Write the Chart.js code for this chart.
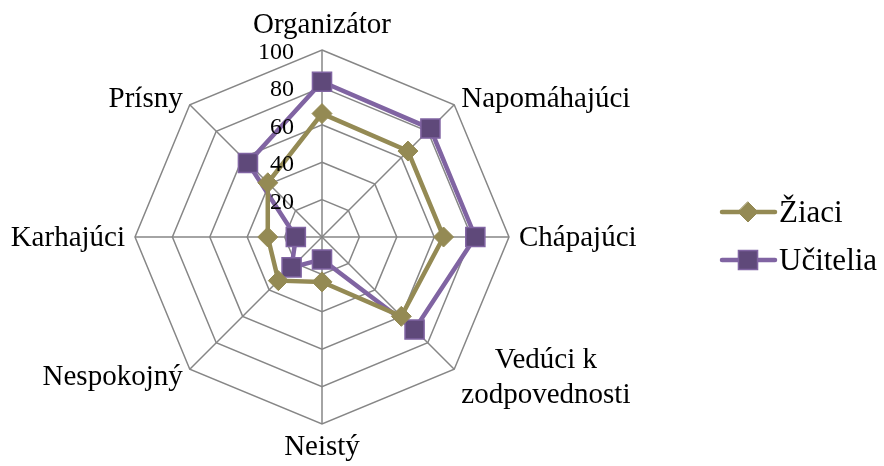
<!DOCTYPE html>
<html>
<head>
<meta charset="utf-8">
<script src="https://cdn.jsdelivr.net/npm/chart.js@4/dist/chart.umd.min.js"></script>
<style>
  html, body { margin: 0; padding: 0; background: #fff; }
  #wrap { width: 884px; height: 466px; }
</style>
</head>
<body>
<div id="wrap"><canvas id="radar" width="884" height="466"></canvas></div>
<script>
const categories = [
  "Organizátor",
  "Napomáhajúci",
  "Chápajúci",
  ["Vedúci k", "zodpovednosti"],
  "Neistý",
  "Nespokojný",
  "Karhajúci",
  "Prísny",
];
const ziaci = [66, 65, 65, 60, 24, 33, 29, 41];
const ucitelia = [83, 82, 82, 70, 12, 23, 14, 56];
const tickValues = [20, 40, 60, 80, 100];

const seriesNames = ["Žiaci", "Učitelia"];
const serif = "'Times New Roman', 'Liberation Serif', serif";

// point labels, tick labels and legend drawn by hand so they sit like the original
const labelsPlugin = {
  id: "labels",
  afterDraw(chart) {
    const ctx = chart.ctx;
    const scale = chart.scales.r;
    const cx = scale.xCenter;
    const cy = scale.yCenter;
    const R = scale.drawingArea;

    ctx.save();
    ctx.fillStyle = "#000";

    // category labels
    ctx.font = "29px " + serif;
    categories.forEach((label, i) => {
      const lines = Array.isArray(label) ? label : [label];
      const pos = scale.getPointPosition(i, R + 10);
      const widths = lines.map((l) => ctx.measureText(l).width);
      const maxW = Math.max(...widths);
      const lineH = 35;
      const blockH = lineH * lines.length;
      let left;
      if (pos.x > cx + 1) left = pos.x;
      else if (pos.x < cx - 1) left = pos.x - maxW;
      else left = pos.x - maxW / 2;
      let firstBase;
      if (Math.abs(pos.x - cx) < 1 && pos.y < cy) firstBase = pos.y - 7 - lineH * (lines.length - 1);
      else if (Math.abs(pos.x - cx) < 1) firstBase = pos.y + 21;
      else firstBase = pos.y - blockH / 2 + lineH / 2 + 9;
      ctx.textAlign = "center";
      ctx.textBaseline = "alphabetic";
      lines.forEach((l, k) => {
        ctx.fillText(l, left + maxW / 2, firstBase + k * lineH);
      });
    });

    // tick labels
    ctx.font = "24px " + serif;
    ctx.textAlign = "right";
    scale.ticks.forEach((t) => {
      if (!tickValues.includes(t.value)) return;
      const d = scale.getDistanceFromCenterForValue(t.value);
      ctx.fillText(String(t.value), cx - 28, cy - d + 9);
    });

    // legend
    const ds = chart.data.datasets;
    ctx.font = "31px " + serif;
    ctx.textAlign = "left";
    ds.forEach((d, k) => {
      const y = 212 + k * 48;
      ctx.strokeStyle = d.borderColor;
      ctx.lineWidth = 4.5;
      ctx.lineCap = "round";
      ctx.beginPath();
      ctx.moveTo(722, y);
      ctx.lineTo(775, y);
      ctx.stroke();
      ctx.fillStyle = d.pointBackgroundColor;
      ctx.strokeStyle = d.pointBorderColor;
      ctx.lineWidth = d.pointBorderWidth;
      ctx.beginPath();
      if (d.pointStyle === "rect") {
        const s = Math.SQRT1_2 * d.pointRadius;
        ctx.rect(748 - s, y - s, 2 * s, 2 * s);
      } else {
        const r = d.pointRadius;
        ctx.moveTo(748, y - r);
        ctx.lineTo(748 + r, y);
        ctx.lineTo(748, y + r);
        ctx.lineTo(748 - r, y);
        ctx.closePath();
      }
      ctx.fill();
      ctx.stroke();
      ctx.fillStyle = "#000";
      ctx.fillText(d.label, 779, y + 10);
    });
    ctx.restore();
  },
};

const ctx = document.getElementById("radar").getContext("2d");
new Chart(ctx, {
  type: "radar",
  data: {
    labels: categories,
    datasets: [
      {
        label: seriesNames[0],
        data: ziaci,
        borderColor: "#948A54",
        borderWidth: 4.5,
        backgroundColor: "rgba(0,0,0,0)",
        fill: false,
        pointStyle: "rectRot",
        pointRadius: 10,
        pointBackgroundColor: "#948A54",
        pointBorderColor: "#948A54",
        pointBorderWidth: 1,
        pointHoverRadius: 10,
      },
      {
        label: seriesNames[1],
        data: ucitelia,
        borderColor: "#8064A2",
        borderWidth: 4.5,
        backgroundColor: "rgba(0,0,0,0)",
        fill: false,
        pointStyle: "rect",
        pointRadius: 13.5,
        pointBackgroundColor: "#5F497A",
        pointBorderColor: "#8064A2",
        pointBorderWidth: 1.5,
        pointHoverRadius: 13.5,
      },
    ],
  },
  options: {
    responsive: false,
    animation: false,
    devicePixelRatio: 1,
    layout: {
      padding: { left: 135, right: 375, top: 50, bottom: 42 },
    },
    plugins: {
      legend: { display: false },
      tooltip: { enabled: false },
    },
    elements: {
      line: { tension: 0 },
    },
    scales: {
      r: {
        min: 0,
        max: 100,
        ticks: { stepSize: 20, display: false },
        grid: { color: "#868686", lineWidth: 1.5 },
        angleLines: { color: "#868686", lineWidth: 1.5 },
        pointLabels: { display: false },
      },
    },
  },
  plugins: [labelsPlugin],
});
</script>
</body>
</html>
